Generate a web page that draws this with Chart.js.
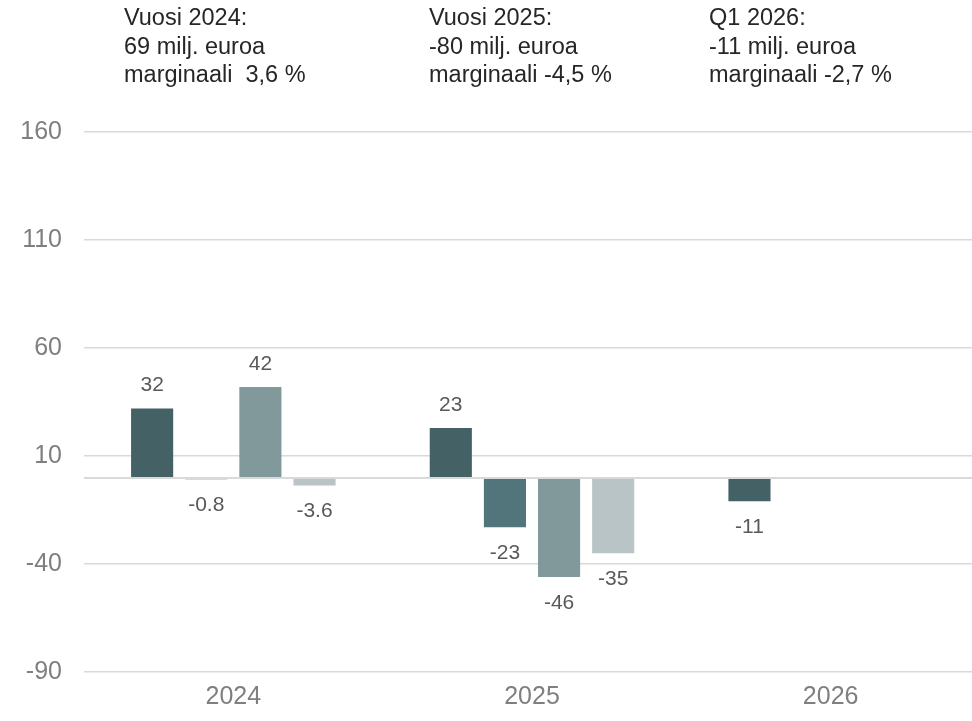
<!DOCTYPE html>
<html lang="fi">
<head>
<meta charset="utf-8">
<script src="https://cdn.jsdelivr.net/npm/chart.js@4/dist/chart.umd.min.js"></script>
<style>
    html, body {
        margin: 0;
        padding: 0;
        background: #ffffff;
        overflow: hidden;
    }
    #wrap {
        position: relative;
        width: 972px;
        height: 721px;
        overflow: hidden;
    }
    #canvas-box {
        position: absolute;
        left: 0;
        top: 0;
        width: 980px;
        height: 721px;
    }
    .nota {
        position: absolute;
        top: 3px;
        font-family: "Liberation Sans", Arial, sans-serif;
        font-size: 23.5px;
        line-height: 28.5px;
        color: #262626;
        white-space: pre;
    }
</style>
</head>
<body>
<div id="wrap">
    <div id="canvas-box"><canvas id="grafico"></canvas></div>
    <div class="nota" style="left:124px">Vuosi 2024:
69 milj. euroa
marginaali  3,6 %</div>
    <div class="nota" style="left:429px">Vuosi 2025:
-80 milj. euroa
marginaali -4,5 %</div>
    <div class="nota" style="left:709px">Q1 2026:
-11 milj. euroa
marginaali -2,7 %</div>
</div>

<script>
const anos = ["2024", "2025", "2026"];
const trimestres = ["Q1", "Q2", "Q3", "Q4"];
const q1 = [32, 23, -11];
const q2 = [-0.8, -23, null];
const q3 = [42, -46, null];
const q4 = [-3.6, -35, null];
const ticksY = [-90, -40, 10, 60, 110, 160];

const cores = ["#446166", "#51757b", "#82999c", "#b8c4c5"];
const corGrade = "#d9d9d9";
const fonte = "'Liberation Sans', Arial, sans-serif";

// linha do zero (por cima das barras) e rotulos das barras
const rotulosPlugin = {
    id: "rotulos",
    afterDatasetsDraw(chart) {
        const { ctx, chartArea, scales } = chart;
        const y0 = Math.round(scales.y.getPixelForValue(0));
        ctx.save();
        ctx.strokeStyle = corGrade;
        ctx.lineWidth = 2;
        ctx.beginPath();
        ctx.moveTo(chartArea.left, y0);
        ctx.lineTo(chartArea.right, y0);
        ctx.stroke();

        ctx.font = "21px " + fonte;
        ctx.fillStyle = "#595959";
        ctx.textAlign = "center";
        ctx.textBaseline = "middle";
        chart.data.datasets.forEach((ds, i) => {
            const meta = chart.getDatasetMeta(i);
            meta.data.forEach((bar, j) => {
                const v = ds.data[j];
                if (v === null || v === undefined) return;
                const y = v >= 0 ? bar.y - 23 : bar.y + 26;
                ctx.fillText(String(v), bar.x, y);
            });
        });
        ctx.restore();
    }
};

const series = [q1, q2, q3, q4];

new Chart(document.getElementById("grafico"), {
    type: "bar",
    data: {
        labels: anos,
        datasets: series.map((dados, i) => ({
            label: trimestres[i],
            data: dados,
            backgroundColor: cores[i],
            borderWidth: 0,
            categoryPercentage: 0.725,
            barPercentage: 0.778
        }))
    },
    options: {
        responsive: true,
        maintainAspectRatio: false,
        animation: false,
        devicePixelRatio: 1,
        layout: {
            padding: { top: 132, left: 0, right: 0, bottom: 0 }
        },
        plugins: {
            legend: { display: false },
            tooltip: { enabled: false }
        },
        scales: {
            x: {
                grid: { display: false, drawTicks: false },
                border: { display: false },
                ticks: {
                    color: "#7f7f7f",
                    font: { family: fonte, size: 25 },
                    padding: 10
                },
                afterFit(scale) {
                    scale.height = 49;
                }
            },
            y: {
                min: -90,
                max: 160,
                afterBuildTicks(scale) {
                    scale.ticks = ticksY.map(v => ({ value: v }));
                },
                grid: {
                    color: corGrade,
                    lineWidth: 1.5,
                    drawTicks: false
                },
                border: { display: false },
                ticks: {
                    color: "#7f7f7f",
                    font: { family: fonte, size: 25 },
                    padding: 22
                },
                afterFit(scale) {
                    scale.width = 84;
                }
            }
        }
    },
    plugins: [rotulosPlugin]
});
</script>
</body>
</html>
